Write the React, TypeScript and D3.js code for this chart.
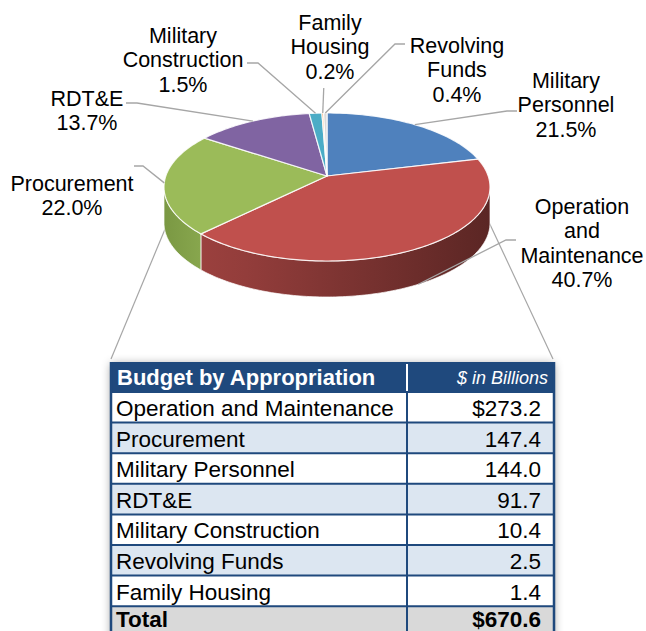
import * as d3 from "d3";

// pie slices, clockwise from 12 o'clock
const categories = [
  "Military Personnel",
  "Operation and Maintenance",
  "Procurement",
  "RDT&E",
  "Military Construction",
  "Family Housing",
  "Revolving Funds",
];
const shares = [21.5, 40.7, 22.0, 13.7, 1.5, 0.2, 0.4];
const colors = ["#4F81BD", "#C0504D", "#9BBB59", "#8064A2", "#4BACC6", "#F79646", "#D9D9D9"];

// table
const tableNames = [
  "Operation and Maintenance",
  "Procurement",
  "Military Personnel",
  "RDT&E",
  "Military Construction",
  "Revolving Funds",
  "Family Housing",
];
const tableValues = [273.2, 147.4, 144.0, 91.7, 10.4, 2.5, 1.4];
const totalValue = 670.6;

const W = 646;
const H = 631;
const CX = 327;
const CY = 187;
const RX = 163;
const RY = 74;
const APEX = { x: 327, y: 176 };
const DEPTH = 36;
const FONT = "'Liberation Sans', Arial, sans-serif";
const LINE = "#A6A6A6";

// label placement: center x, first baseline, elbow points next to the text
const labelLayout: Record<string, { x: number; y: number; elbow: number[][]; onSide?: boolean }> = {
  "Military Personnel": { x: 566, y: 88, elbow: [[517, 111], [507, 111]] },
  "Operation and Maintenance": { x: 582, y: 214, elbow: [[516, 240], [506, 240]], onSide: true },
  Procurement: { x: 72, y: 191, elbow: [[134, 166], [143, 166]] },
  "RDT&E": { x: 87, y: 106, elbow: [[126, 103], [137, 103]] },
  "Military Construction": { x: 183, y: 43, elbow: [[247, 63], [258, 63]] },
  "Family Housing": { x: 330, y: 30, elbow: [[325, 88]] },
  "Revolving Funds": { x: 457, y: 53, elbow: [[405, 44], [395, 44]] },
};

// fake perspective: far side compressed, near side stretched
const warp = (a: number) => a - 0.17 * Math.sin(a);
const rimT = (t: number, dy = 0): [number, number] => [CX + RX * Math.sin(t), CY - RY * Math.cos(t) + dy];

function topPath(a0: number, a1: number) {
  const t0 = warp(a0);
  const t1 = warp(a1);
  const n = Math.max(2, Math.ceil((t1 - t0) / 0.02));
  const pts = d3.range(n + 1).map((i) => rimT(t0 + ((t1 - t0) * i) / n));
  return `M${APEX.x},${APEX.y}L` + pts.map((p) => p.join(",")).join("L") + "Z";
}

function sidePath(a0: number, a1: number) {
  const t0 = Math.max(warp(a0), Math.PI / 2);
  const t1 = Math.min(warp(a1), (3 * Math.PI) / 2);
  if (t1 <= t0) return null;
  const n = Math.max(2, Math.ceil((t1 - t0) / 0.02));
  const ts = d3.range(n + 1).map((i) => t0 + ((t1 - t0) * i) / n);
  const upper = ts.map((t) => rimT(t));
  const lower = ts.slice().reverse().map((t) => rimT(t, DEPTH));
  return "M" + upper.concat(lower).map((p) => p.join(",")).join("L") + "Z";
}

export default function App() {
  const arcs = d3.pie<number>().sort(null).value((d) => d)(shares);

  const x0 = 111;
  const x1 = 407;
  const x2 = 554;
  const headTop = 362;
  const headH = 30;
  const rows = [...tableNames, "Total"];
  const y = d3
    .scaleBand<string>()
    .domain(rows)
    .range([headTop + headH, headTop + headH + rows.length * 30.6]);
  const fmt = d3.format(".1f");

  return (
    <svg
      width={W}
      height={H}
      viewBox={`0 0 ${W} ${H}`}
      style={{ position: "absolute", left: 0, top: 0, background: "#fff" }}
      fontFamily={FONT}
    >
      <defs>
        {colors.map((c, i) => (
          <linearGradient key={i} id={`side${i}`} gradientUnits="userSpaceOnUse" x1={CX - RX} x2={CX + RX} y1={0} y2={0}>
            <stop offset="0" stopColor={d3.color(c)!.darker(0.5).formatHex()} />
            <stop offset="0.25" stopColor={d3.color(c)!.darker(0.75).formatHex()} />
            <stop offset="1" stopColor={d3.color(c)!.darker(2.1).formatHex()} />
          </linearGradient>
        ))}
        <linearGradient id="sideGreen" gradientUnits="userSpaceOnUse" x1={CX - RX} x2={210} y1={0} y2={0}>
          <stop offset="0" stopColor="#7A9843" />
          <stop offset="1" stopColor="#8BAA50" />
        </linearGradient>
        <filter id="shadow" x="-10%" y="-10%" width="120%" height="130%">
          <feDropShadow dx="0" dy="2" stdDeviation="5" floodColor="#000" floodOpacity="0.4" />
        </filter>
      </defs>

      {/* lines from pie to table */}
      <line x1={168} y1={222} x2={x0} y2={headTop - 3} stroke={LINE} strokeWidth={1.2} />
      <line x1={487} y1={218} x2={x2 - 1} y2={headTop - 3} stroke={LINE} strokeWidth={1.2} />

      {/* pie sides */}
      {arcs.map((a, i) => {
        const d = sidePath(a.startAngle, a.endAngle);
        if (!d) return null;
        return (
          <path
            key={`s${i}`}
            d={d}
            fill={i === 2 ? "url(#sideGreen)" : `url(#side${i})`}
            stroke="#fff"
            strokeOpacity={0.7}
            strokeWidth={1}
          />
        );
      })}

      {/* pie tops */}
      {arcs.map((a, i) => (
        <path
          key={`t${i}`}
          d={topPath(a.startAngle, a.endAngle)}
          fill={colors[i]}
          stroke="#fff"
          strokeOpacity={0.85}
          strokeWidth={1.2}
          strokeLinejoin="round"
        />
      ))}

      {/* leader lines and labels */}
      {arcs.map((a, i) => {
        const name = categories[i];
        const lay = labelLayout[name];
        const mid = (a.startAngle + a.endAngle) / 2;
        const anchor = rimT(warp(mid), lay.onSide ? DEPTH : 0);
        const pts = lay.elbow.map((p) => [p[0], p[1]] as [number, number]);
        if (name === "Family Housing") pts[0] = [anchor[0] + 1, pts[0][1]];
        const line = d3.line()([...pts, anchor]);
        const lines = [...name.split(" "), `${fmt(shares[i])}%`];
        return (
          <g key={`l${i}`}>
            <path d={line ?? ""} fill="none" stroke={LINE} strokeWidth={1.3} />
            <text x={lay.x} y={lay.y} textAnchor="middle" fontSize={21.5} fill="#000">
              {lines.map((t, k) => (
                <tspan key={k} x={lay.x} dy={k === 0 ? 0 : 24.3}>
                  {t}
                </tspan>
              ))}
            </text>
          </g>
        );
      })}

      {/* table */}
      <g filter="url(#shadow)">
        <rect x={x0} y={headTop} width={x2 - x0} height={H - headTop + 20} fill="#fff" />
      </g>
      <rect x={x0} y={headTop} width={x2 - x0} height={headH} fill="#1F497D" />
      {rows.map((r, i) => (
        <rect
          key={r}
          x={x0}
          y={y(r)}
          width={x2 - x0}
          height={y.bandwidth()}
          fill={r === "Total" ? "#D9D9D9" : i % 2 === 1 ? "#DCE6F1" : "#FFFFFF"}
        />
      ))}
      {rows.map((r) => (
        <line key={`h${r}`} x1={x0} x2={x2} y1={y(r)} y2={y(r)} stroke="#1F497D" strokeWidth={2} />
      ))}
      <line x1={x0} x2={x0} y1={headTop} y2={H + 10} stroke="#1F497D" strokeWidth={2.5} />
      <line x1={x2} x2={x2} y1={headTop} y2={H + 10} stroke="#1F497D" strokeWidth={2.5} />
      <line x1={x1} x2={x1} y1={headTop + headH} y2={H + 10} stroke="#1F497D" strokeWidth={2} />
      <line x1={x1} x2={x1} y1={headTop + 2} y2={headTop + headH - 1} stroke="#fff" strokeWidth={2} />

      <text x={117} y={headTop + 23} fill="#fff" fontWeight="bold" fontSize={22}>
        Budget by Appropriation
      </text>
      <text x={548} y={headTop + 22} fill="#fff" fontStyle="italic" fontSize={18} textAnchor="end">
        $ in Billions
      </text>

      {rows.map((r, i) => {
        const isTotal = r === "Total";
        const v = isTotal ? totalValue : tableValues[i];
        const label = isTotal || i === 0 ? `$${fmt(v)}` : fmt(v);
        const base = isTotal ? 627 : (y(r) ?? 0) + 24;
        return (
          <g key={`txt${r}`} fontSize={22.5} fontWeight={isTotal ? "bold" : "normal"} fill="#000">
            <text x={116} y={base}>
              {r}
            </text>
            <text x={541} y={base} textAnchor="end">
              {label}
            </text>
          </g>
        );
      })}
    </svg>
  );
}
